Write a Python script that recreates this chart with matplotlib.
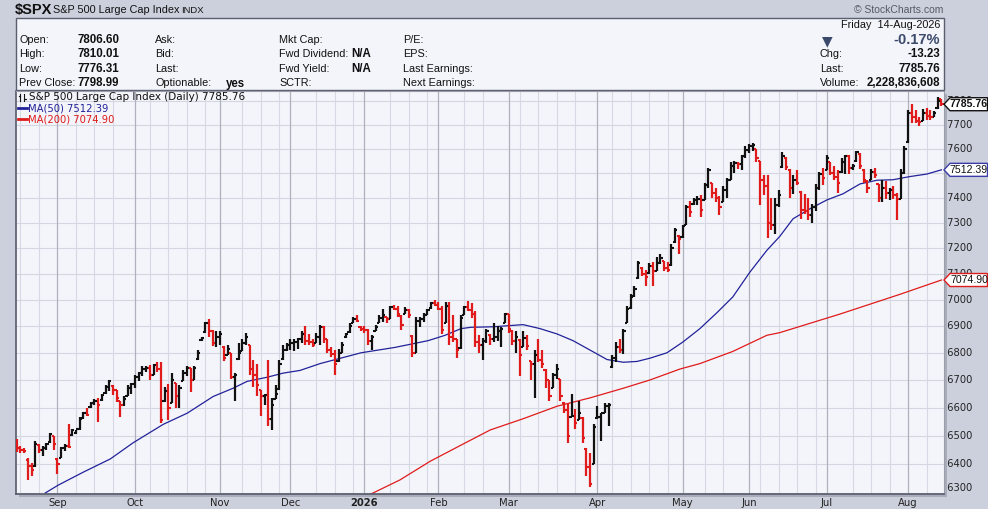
import numpy as np
import matplotlib.pyplot as plt
from matplotlib.patches import Rectangle, Polygon
from matplotlib.lines import Line2D

plt.rcParams['font.family'] = ['Liberation Sans', 'DejaVu Sans']

W, H = 988, 509

# daily OHLC bars (one per trading day, mid Aug 2025 -> 14 Aug 2026)
opens = [
    6475, 6455, 6448, 6415, 6395, 6392, 6468, 6450, 6455, 6478,
    6498, 6418, 6422, 6455, 6465, 6502, 6510, 6522, 6562, 6580,
    6602, 6615, 6625, 6627, 6652, 6675, 6678, 6665, 6622, 6610,
    6642, 6670, 6685, 6710, 6725, 6740, 6745, 6720, 6755, 6740,
    6625, 6660, 6618, 6688, 6640, 6698, 6725, 6745, 6700, 6778,
    6847, 6878, 6910, 6880, 6835, 6860, 6822, 6792, 6798, 6710,
    6778, 6808, 6835, 6828, 6740, 6720, 6662, 6640, 6645, 6560,
    6632, 6668, 6778, 6810, 6830, 6835, 6840, 6850, 6870, 6845,
    6840, 6837, 6860, 6895, 6850, 6810, 6795, 6768, 6800, 6857,
    6878, 6912, 6925, 6898, 6890, 6885, 6845, 6882, 6912, 6930,
    6933, 6927, 6970, 6965, 6938, 6947, 6960, 6862, 6800, 6920,
    6925, 6940, 6967, 6985, 6980, 6965, 6912, 6975, 6860, 6850,
    6818, 6942, 6970, 6960, 6945, 6840, 6830, 6845, 6868, 6850,
    6860, 6880, 6912, 6945, 6883, 6845, 6848, 6822, 6855, 6768,
    6760, 6790, 6775, 6738, 6700, 6672, 6720, 6702, 6618, 6590,
    6568, 6570, 6557, 6563, 6453, 6390, 6402, 6562, 6565, 6580,
    6605, 6748, 6780, 6820, 6810, 6912, 6967, 7012, 7082, 7123,
    7100, 7102, 7130, 7110, 7140, 7148, 7120, 7132, 7222, 7248,
    7242, 7292, 7360, 7372, 7390, 7395, 7392, 7450, 7458, 7420,
    7400, 7382, 7430, 7470, 7530, 7540, 7535, 7570, 7595, 7610,
    7598, 7548, 7470, 7445, 7300, 7290, 7370, 7522, 7563, 7513,
    7440, 7470, 7423, 7350, 7345, 7330, 7360, 7440, 7495, 7512,
    7543, 7500, 7485, 7502, 7545, 7570, 7520, 7547, 7578, 7513,
    7468, 7472, 7505, 7453, 7400, 7440, 7420, 7430, 7410, 7395,
    7500, 7628, 7750, 7730, 7715, 7717, 7750, 7735, 7732, 7768, 7806.60,
]
highs = [
    6488, 6462, 6458, 6420, 6405, 6480, 6470, 6465, 6475, 6510,
    6500, 6420, 6460, 6470, 6540, 6525, 6520, 6565, 6585, 6600,
    6620, 6630, 6635, 6650, 6680, 6700, 6680, 6665, 6625, 6640,
    6680, 6690, 6720, 6730, 6750, 6750, 6755, 6760, 6765, 6765,
    6675, 6685, 6725, 6690, 6680, 6735, 6750, 6745, 6750, 6810,
    6860, 6915, 6925, 6885, 6880, 6880, 6825, 6830, 6800, 6725,
    6835, 6850, 6875, 6830, 6775, 6760, 6665, 6650, 6775, 6635,
    6680, 6775, 6830, 6835, 6850, 6850, 6855, 6880, 6900, 6870,
    6850, 6875, 6905, 6900, 6850, 6820, 6810, 6815, 6840, 6875,
    6910, 6935, 6940, 6900, 6900, 6890, 6865, 6905, 6940, 6965,
    6935, 6975, 6980, 6975, 6940, 6970, 6965, 6865, 6935, 6935,
    6950, 6965, 6990, 7000, 6990, 6975, 6990, 6990, 6940, 6850,
    6940, 6975, 6995, 6985, 6955, 6865, 6855, 6890, 6870, 6910,
    6900, 6895, 6950, 6945, 6885, 6880, 6850, 6880, 6865, 6770,
    6810, 6850, 6810, 6740, 6700, 6725, 6760, 6705, 6620, 6615,
    6650, 6595, 6625, 6565, 6455, 6440, 6540, 6605, 6580, 6615,
    6615, 6790, 6840, 6850, 6890, 6975, 7020, 7050, 7150, 7125,
    7115, 7140, 7145, 7165, 7175, 7150, 7145, 7215, 7280, 7250,
    7290, 7370, 7385, 7400, 7405, 7410, 7460, 7520, 7460, 7440,
    7405, 7445, 7480, 7545, 7550, 7545, 7575, 7610, 7620, 7625,
    7600, 7550, 7490, 7490, 7400, 7400, 7430, 7585, 7565, 7515,
    7490, 7510, 7425, 7415, 7400, 7375, 7455, 7505, 7520, 7575,
    7545, 7530, 7510, 7560, 7575, 7575, 7535, 7590, 7580, 7515,
    7470, 7515, 7520, 7455, 7470, 7465, 7440, 7445, 7420, 7515,
    7610, 7760, 7785, 7760, 7730, 7765, 7770, 7760, 7755, 7815, 7810.01,
]
lows = [
    6442, 6440, 6438, 6345, 6360, 6390, 6440, 6430, 6450, 6475,
    6450, 6365, 6420, 6445, 6455, 6500, 6505, 6520, 6560, 6570,
    6600, 6610, 6550, 6625, 6650, 6660, 6645, 6620, 6565, 6605,
    6640, 6650, 6670, 6695, 6715, 6730, 6700, 6720, 6730, 6545,
    6620, 6555, 6615, 6598, 6600, 6695, 6715, 6655, 6700, 6775,
    6845, 6875, 6860, 6825, 6820, 6830, 6770, 6790, 6705, 6625,
    6775, 6805, 6830, 6720, 6675, 6640, 6570, 6610, 6535, 6520,
    6630, 6665, 6775, 6805, 6810, 6805, 6815, 6835, 6830, 6830,
    6820, 6835, 6830, 6835, 6800, 6785, 6720, 6765, 6800, 6855,
    6875, 6910, 6915, 6880, 6875, 6830, 6810, 6880, 6910, 6915,
    6910, 6925, 6960, 6935, 6885, 6945, 6930, 6785, 6800, 6895,
    6915, 6940, 6965, 6975, 6960, 6870, 6910, 6830, 6840, 6780,
    6815, 6940, 6955, 6930, 6820, 6800, 6775, 6835, 6830, 6840,
    6845, 6820, 6910, 6875, 6830, 6800, 6715, 6820, 6810, 6700,
    6635, 6765, 6745, 6670, 6625, 6670, 6705, 6625, 6580, 6475,
    6565, 6525, 6555, 6475, 6360, 6320, 6400, 6560, 6480, 6580,
    6535, 6745, 6765, 6800, 6795, 6910, 6965, 7010, 7080, 7090,
    7050, 7100, 7050, 7110, 7135, 7110, 7105, 7130, 7220, 7175,
    7240, 7290, 7320, 7370, 7370, 7320, 7390, 7440, 7400, 7380,
    7330, 7380, 7400, 7470, 7500, 7515, 7510, 7560, 7580, 7590,
    7545, 7370, 7410, 7240, 7270, 7255, 7360, 7520, 7510, 7400,
    7415, 7450, 7315, 7335, 7310, 7300, 7345, 7430, 7450, 7510,
    7490, 7470, 7420, 7500, 7495, 7495, 7510, 7545, 7515, 7460,
    7420, 7470, 7480, 7380, 7380, 7395, 7390, 7395, 7310, 7395,
    7495, 7625, 7705, 7705, 7695, 7715, 7720, 7720, 7730, 7765, 7776.31,
]
closes = [
    6455, 6448, 6445, 6395, 6380, 6470, 6450, 6455, 6470, 6505,
    6470, 6400, 6455, 6465, 6460, 6520, 6522, 6560, 6580, 6575,
    6615, 6625, 6610, 6645, 6675, 6695, 6665, 6635, 6610, 6630,
    6670, 6685, 6710, 6725, 6740, 6745, 6720, 6755, 6740, 6555,
    6660, 6600, 6700, 6640, 6670, 6725, 6745, 6700, 6745, 6800,
    6855, 6910, 6880, 6835, 6860, 6870, 6780, 6815, 6710, 6720,
    6800, 6835, 6860, 6740, 6720, 6680, 6640, 6645, 6560, 6610,
    6650, 6760, 6810, 6830, 6835, 6840, 6850, 6870, 6845, 6840,
    6830, 6860, 6895, 6850, 6810, 6795, 6760, 6800, 6830, 6870,
    6900, 6925, 6920, 6890, 6885, 6845, 6860, 6895, 6930, 6940,
    6925, 6970, 6965, 6945, 6905, 6960, 6940, 6800, 6920, 6925,
    6940, 6960, 6985, 6980, 6965, 6885, 6975, 6860, 6850, 6810,
    6930, 6970, 6960, 6945, 6840, 6830, 6845, 6880, 6850, 6860,
    6880, 6890, 6945, 6890, 6845, 6860, 6790, 6855, 6825, 6760,
    6790, 6775, 6760, 6700, 6640, 6720, 6740, 6640, 6590, 6500,
    6570, 6545, 6580, 6490, 6390, 6330, 6530, 6565, 6580, 6605,
    6610, 6780, 6820, 6810, 6880, 6965, 7010, 7040, 7140, 7100,
    7085, 7130, 7110, 7140, 7160, 7120, 7115, 7200, 7270, 7235,
    7285, 7360, 7340, 7390, 7395, 7350, 7450, 7510, 7420, 7400,
    7360, 7430, 7470, 7530, 7540, 7535, 7570, 7595, 7610, 7615,
    7560, 7470, 7445, 7300, 7290, 7370, 7410, 7570, 7525, 7440,
    7470, 7460, 7350, 7345, 7330, 7360, 7440, 7495, 7480, 7560,
    7500, 7485, 7460, 7545, 7570, 7520, 7530, 7585, 7530, 7470,
    7440, 7505, 7490, 7400, 7440, 7420, 7430, 7410, 7395, 7500,
    7600, 7750, 7730, 7715, 7710, 7750, 7735, 7730, 7750, 7798.99, 7785.76,
]

# moving averages, sampled along the chart (bar index, value)
ma50_idx = [7.7, 11.2, 18, 25.3, 31.5, 39.6, 46.1, 53.1, 58.5, 62.3, 67.7, 72, 76.6, 82,
            93.1, 102.3, 111.2, 115.8, 120.1, 122.8, 128.8, 136.9, 141.5, 146.1, 150.4,
            155, 159.6, 164, 167.7, 171.2, 175.8, 180.1, 184.7, 189.3, 193.6, 198.2,
            202.8, 206.3, 209.9, 214.5, 219, 223.4, 228, 232.6, 236.9, 241.5, 246, 250]
ma50_val = [6300, 6327, 6372, 6418, 6475, 6540, 6580, 6640, 6670, 6695, 6710, 6725, 6735, 6760,
            6800, 6820, 6845, 6865, 6890, 6895, 6897, 6905, 6890, 6870, 6845,
            6810, 6775, 6765, 6768, 6780, 6800, 6840, 6890, 6950, 7010, 7105,
            7190, 7245, 7315, 7355, 7390, 7415, 7455, 7470, 7472, 7485, 7495, 7512.39]
ma200_idx = [95.5, 103.6, 111.8, 119.9, 128, 136.9, 146.1, 155, 164, 171.2, 179.3, 184.7,
             193.6, 202.8, 206.3, 222.6, 238.8, 250]
ma200_val = [6295, 6345, 6410, 6465, 6520, 6560, 6605, 6635, 6670, 6700, 6740, 6760,
             6805, 6865, 6875, 6945, 7020, 7074.90]

month_pos = [11, 32, 55, 74, 94, 114, 133, 157, 180, 198, 219, 241]
month_lab = ['Sep', 'Oct', 'Nov', 'Dec', '2026', 'Feb', 'Mar', 'Apr', 'May', 'Jun', 'Jul', 'Aug']
price_ticks = list(range(6300, 7900, 100))

last_close = 7785.76
ma50_last = 7512.39
ma200_last = 7074.90

BG = '#cbd0dc'
PANEL = '#f4f5fa'
RED = '#e01b1b'
NAVY = '#22229a'
DV = ['DejaVu Sans']


def fx(x):
    return x / W


def fy(y):
    return 1 - y / H


fig = plt.figure(figsize=(W / 100, H / 100), dpi=100, facecolor=BG)

# info box
fig.patches.append(Rectangle((fx(16), fy(90)), fx(928), 72 / H, transform=fig.transFigure,
                             facecolor=PANEL, edgecolor='#5a5e6e', lw=1.0, zorder=-2))
# drop shadow under the chart panel
fig.patches.append(Rectangle((fx(19), fy(497)), fx(928), (497 - 94) / H, transform=fig.transFigure,
                             facecolor='#a9adba', edgecolor='none', zorder=-2))

ax = fig.add_axes([fx(16), fy(494), fx(928), (494 - 91) / H])
ax.set_facecolor(PANEL)
ax.set_yscale('log')
ax.set_ylim(6296.6, 7842)
ax.set_xlim(-0.2, 250.7)
ax.set_xticks([])
ax.set_yticks([])
ax.minorticks_off()
for s in ['top', 'right']:
    ax.spines[s].set_color('#9a9eaa')
    ax.spines[s].set_linewidth(0.8)
for s in ['left', 'bottom']:
    ax.spines[s].set_color('#55596a')
    ax.spines[s].set_linewidth(1.2)

# grid
for p in price_ticks:
    ax.axhline(p, color='#d3d7e1', lw=0.8, zorder=0)
for w in range(1, 251, 5):
    if min(abs(w - m) for m in month_pos) > 2:
        ax.axvline(w, color='#d6d9e3', lw=0.8, zorder=0)
for m in month_pos:
    ax.axvline(m, color='#aeb2be', lw=0.9, zorder=0)

# OHLC bars
n = len(closes)
x = np.arange(n)
cl = np.array(closes)
prev = np.r_[cl[0] + 1, cl[:-1]]
cols = np.where(cl < prev, RED, '#111111')
ax.vlines(x, lows, highs, colors=cols, lw=1.6, zorder=3)
ax.hlines(opens, x - 0.6, x, colors=cols, lw=1.5, zorder=3)
ax.hlines(closes, x, x + 0.6, colors=cols, lw=1.5, zorder=3)

# moving averages
ax.plot(ma50_idx, ma50_val, color=NAVY, lw=0.9, zorder=2)
ax.plot(ma200_idx, ma200_val, color=RED, lw=0.9, zorder=2)

# right axis labels (7500 sits fully under the MA(50) tag)
for p in price_ticks:
    if p == 7500:
        continue
    va = 'bottom' if p == 6300 else 'center'
    ax.text(1.0, p, ' ' + str(p), transform=ax.get_yaxis_transform(), ha='left', va=va,
            fontsize=7.2, family=DV, color='#222222', clip_on=False)

# month labels
for m, lab in zip(month_pos, month_lab):
    xd = ax.transData.transform((m, 7000))[0]
    fig.text(xd / W, fy(502.5), lab, ha='center', va='center', family=DV,
             fontsize=7.2, color='#222222', fontweight='bold' if lab == '2026' else 'normal')


# price tags at the right edge
def tag(val, ec, bold=False):
    yd = ax.transData.transform((0, val))[1]
    yc = H - yd
    pts = [(944, yc), (950, yc - 6.5), (987.5, yc - 6.5), (987.5, yc + 6.5), (950, yc + 6.5)]
    fig.patches.append(Polygon([(fx(a), fy(b)) for a, b in pts], closed=True,
                               transform=fig.transFigure, facecolor='white', edgecolor=ec,
                               lw=1.0, zorder=5))
    fig.text(fx(969), fy(yc), f'{val:.2f}', ha='center', va='center', fontsize=7.6,
             fontweight='bold' if bold else 'normal', color='#111111', zorder=6)


tag(ma200_last, RED)
tag(ma50_last, '#3a3aa8')
tag(last_close, '#111111', bold=True)

# header
fig.text(fx(15), fy(10), '$SPX', fontsize=10.5, fontweight='bold', va='center', color='#111')
fig.text(fx(53), fy(10), 'S&P 500 Large Cap Index', fontsize=7.8, va='center', color='#111')
fig.text(fx(181), fy(10.5), 'INDX', fontsize=6.8, va='center', color='#111')
fig.text(fx(943), fy(10), '© StockCharts.com', fontsize=7.5, va='center', ha='right', color='#555a66')

rows = [40, 54, 69, 83]
col1 = [('Open:', '7806.60'), ('High:', '7810.01'), ('Low:', '7776.31'), ('Prev Close:', '7798.99')]
for y, (lab, val) in zip(rows, col1):
    fig.text(fx(19), fy(y), lab, fontsize=7.8, va='center', color='#111')
    fig.text(fx(77), fy(y), val, fontsize=8.3, va='center', fontweight='bold', color='#111')
for y, lab in zip(rows, ['Ask:', 'Bid:', 'Last:', 'Optionable:']):
    fig.text(fx(155), fy(y), lab, fontsize=7.8, va='center', color='#111')
fig.text(fx(226), fy(84), 'yes', fontsize=8.3, va='center', fontweight='bold', color='#111')
for y, lab in zip(rows, ['Mkt Cap:', 'Fwd Dividend:', 'Fwd Yield:', 'SCTR:']):
    fig.text(fx(279), fy(y), lab, fontsize=7.8, va='center', color='#111')
fig.text(fx(351), fy(54), 'N/A', fontsize=8.3, va='center', fontweight='bold', color='#111')
fig.text(fx(351), fy(69), 'N/A', fontsize=8.3, va='center', fontweight='bold', color='#111')
for y, lab in zip(rows, ['P/E:', 'EPS:', 'Last Earnings:', 'Next Earnings:']):
    fig.text(fx(403), fy(y), lab, fontsize=7.8, va='center', color='#111')

fig.text(fx(940), fy(25), 'Friday  14-Aug-2026', fontsize=7.8, va='center', ha='right', color='#111')
fig.text(fx(827), fy(41), '▼', fontsize=10, va='center', ha='center', family=DV, color='#3b4a6b')
fig.text(fx(940), fy(40), '-0.17%', fontsize=10.5, va='center', ha='right', fontweight='bold', color='#3b4a6b')
for y, lab, val in zip(rows[1:], ['Chg:', 'Last:', 'Volume:'], ['-13.23', '7785.76', '2,228,836,608']):
    fig.text(fx(820), fy(y), lab, fontsize=7.8, va='center', color='#111')
    fig.text(fx(940), fy(y), val, fontsize=8.3, va='center', ha='right', fontweight='bold', color='#111')

# in-chart legend
for gx in (20, 24):
    fig.lines.append(Line2D([fx(gx), fx(gx)], [fy(94), fy(101)], transform=fig.transFigure, color='#111', lw=0.8))
fig.lines.append(Line2D([fx(18.5), fx(20)], [fy(96), fy(96)], transform=fig.transFigure, color='#111', lw=0.8))
fig.lines.append(Line2D([fx(24), fx(25.5)], [fy(99), fy(99)], transform=fig.transFigure, color='#111', lw=0.8))
fig.text(fx(29), fy(97.5), 'S&P 500 Large Cap Index (Daily) 7785.76', fontsize=7.5, family=DV,
         va='center', color='#111')
fig.lines.append(Line2D([fx(18), fx(27)], [fy(108), fy(108)], transform=fig.transFigure, color=NAVY, lw=2))
fig.text(fx(28), fy(108.5), 'MA(50) 7512.39', fontsize=7.2, family=DV, va='center', color=NAVY)
fig.lines.append(Line2D([fx(18), fx(27)], [fy(119), fy(119)], transform=fig.transFigure, color=RED, lw=2))
fig.text(fx(28), fy(119.5), 'MA(200) 7074.90', fontsize=7.2, family=DV, va='center', color=RED)

fig.savefig('out.png', dpi=100, facecolor=BG)
